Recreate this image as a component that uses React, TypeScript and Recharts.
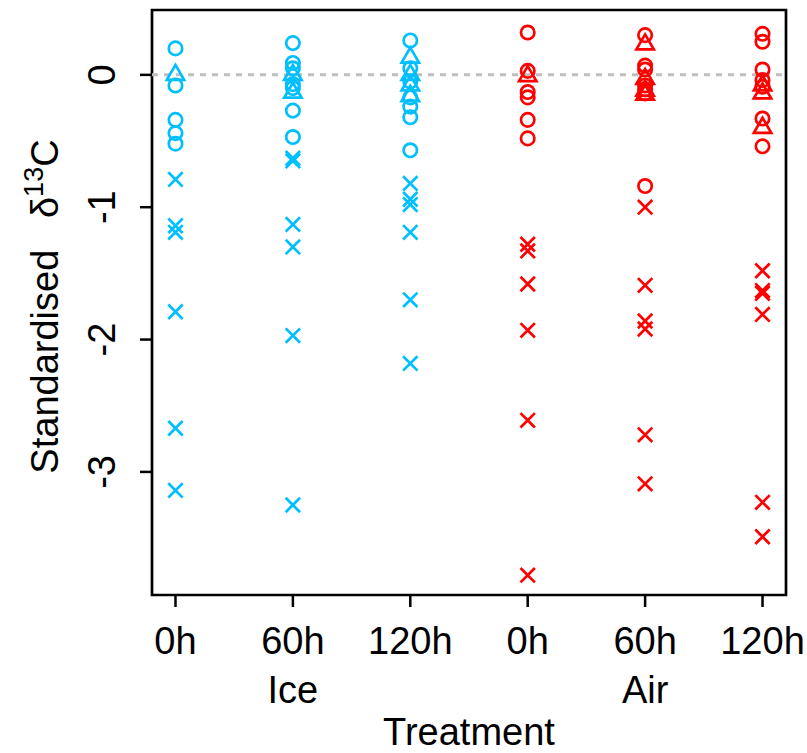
import React from 'react';
import {
  ScatterChart,
  Scatter,
  XAxis,
  YAxis,
  ReferenceLine,
  ReferenceArea,
} from 'recharts';

// columns: Ice 0h, Ice 60h, Ice 120h, Air 0h, Air 60h, Air 120h
const treatmentLabels = ['0h', '60h', '120h', '0h', '60h', '120h'];
const groupLabels = ['', 'Ice', '', '', 'Air', ''];
const xTicks = [1, 2, 3, 4, 5, 6];
const yTicks = [-3, -2, -1, 0];

const circleValues = [
  [0.2, -0.08, -0.34, -0.44, -0.52],
  [0.24, 0.09, 0.05, -0.07, -0.1, -0.27, -0.47],
  [0.26, 0.05, -0.05, -0.17, -0.24, -0.32, -0.57],
  [0.32, 0.03, -0.13, -0.17, -0.34, -0.48],
  [0.3, 0.07, 0.04, -0.08, -0.11, -0.14, -0.84],
  [0.31, 0.25, 0.04, -0.04, -0.09, -0.33, -0.54],
];

const triangleValues = [
  [0.0],
  [0.0, -0.135],
  [0.13, 0.0, -0.08, -0.16],
  [-0.01],
  [0.23, -0.03, -0.12, -0.15],
  [-0.08, -0.14, -0.4],
];

const crossValues = [
  [-0.79, -1.14, -1.19, -1.79, -2.67, -3.14],
  [-0.63, -0.65, -1.13, -1.3, -1.97, -3.25],
  [-0.82, -0.94, -0.98, -1.19, -1.7, -2.18],
  [-1.28, -1.33, -1.58, -1.93, -2.61, -3.78],
  [-1.0, -1.59, -1.86, -1.92, -2.72, -3.09],
  [-1.48, -1.63, -1.65, -1.81, -3.23, -3.49],
];

const iceCols = [0, 1, 2];
const airCols = [3, 4, 5];

const ICE = '#00BFFF';
const AIR = '#FF0000';
const FONT = 'Liberation Sans, Arial, sans-serif';
const LW = 2.7;

const toPoints = (values: number[][], cols: number[]) =>
  cols.flatMap((c) => values[c].map((y) => ({ x: c + 1, y })));

const circleShape = (color: string) => (props: any) => (
  <circle cx={props.cx} cy={props.cy} r={6.7} fill="none" stroke={color} strokeWidth={LW} />
);

const triangleShape = (color: string) => (props: any) => {
  const { cx, cy } = props;
  const pts = `${cx},${cy - 10} ${cx + 8.7},${cy + 5} ${cx - 8.7},${cy + 5}`;
  return <polygon points={pts} fill="none" stroke={color} strokeWidth={LW} strokeLinejoin="miter" />;
};

const crossShape = (color: string) => (props: any) => {
  const { cx, cy } = props;
  const d = 7.2;
  return (
    <path
      d={`M${cx - d},${cy - d}L${cx + d},${cy + d}M${cx - d},${cy + d}L${cx + d},${cy - d}`}
      stroke={color}
      strokeWidth={LW}
      fill="none"
    />
  );
};

const renderXTick = (props: any) => {
  const { x, y, payload } = props;
  const i = payload.value - 1;
  return (
    <g>
      <text x={x} y={y + 47} textAnchor="middle" fontSize={38} fontFamily={FONT} fill="#000">
        {treatmentLabels[i]}
      </text>
      {groupLabels[i] && (
        <text x={x} y={y + 96} textAnchor="middle" fontSize={38} fontFamily={FONT} fill="#000">
          {groupLabels[i]}
        </text>
      )}
    </g>
  );
};

const renderYTick = (props: any) => {
  const { x, y, payload } = props;
  const tx = x - 25;
  return (
    <text
      x={tx}
      y={y}
      transform={`rotate(-90, ${tx}, ${y})`}
      textAnchor="middle"
      fontSize={38}
      fontFamily={FONT}
      fill="#000"
    >
      {payload.value}
    </text>
  );
};

const renderXLabel = (props: any) => {
  const vb = props.viewBox;
  return (
    <text x={vb.x + vb.width / 2} y={vb.y + 150} textAnchor="middle" fontSize={38} fontFamily={FONT} fill="#000">
      Treatment
    </text>
  );
};

const renderYLabel = (props: any) => {
  const vb = props.viewBox;
  const tx = 58;
  const ty = vb.y + vb.height / 2 + 4;
  return (
    <text
      x={tx}
      y={ty}
      transform={`rotate(-90, ${tx}, ${ty})`}
      textAnchor="middle"
      fontSize={38}
      fontFamily={FONT}
      fill="#000"
      style={{ whiteSpace: 'pre' }}
    >
      {'Standardised   δ'}
      <tspan dy={-15} fontSize={27}>
        13
      </tspan>
      <tspan dy={15}>C</tspan>
    </text>
  );
};

export default function App() {
  return (
    <div style={{ position: 'absolute', left: 0, top: 0, width: 807, height: 753, background: '#fff' }}>
      <ScatterChart width={807} height={753} margin={{ top: 10, right: 21, bottom: 0, left: 0 }}>
        <XAxis
          type="number"
          dataKey="x"
          domain={[0.8, 6.2]}
          ticks={xTicks}
          allowDataOverflow
          axisLine={false}
          tickLine={{ stroke: '#000', strokeWidth: 2.5 }}
          tickSize={12}
          tickMargin={0}
          height={158}
          tick={renderXTick}
          label={renderXLabel}
        />
        <YAxis
          type="number"
          dataKey="y"
          domain={[-3.93, 0.49]}
          ticks={yTicks}
          allowDataOverflow
          axisLine={false}
          tickLine={{ stroke: '#000', strokeWidth: 2.5 }}
          tickSize={12}
          tickMargin={0}
          width={152}
          tick={renderYTick}
          label={renderYLabel}
        />
        <ReferenceLine y={0} stroke="#BEBEBE" strokeWidth={3} strokeDasharray="6 6" />
        <Scatter data={toPoints(circleValues, iceCols)} shape={circleShape(ICE)} isAnimationActive={false} />
        <Scatter data={toPoints(triangleValues, iceCols)} shape={triangleShape(ICE)} isAnimationActive={false} />
        <Scatter data={toPoints(crossValues, iceCols)} shape={crossShape(ICE)} isAnimationActive={false} />
        <Scatter data={toPoints(circleValues, airCols)} shape={circleShape(AIR)} isAnimationActive={false} />
        <Scatter data={toPoints(triangleValues, airCols)} shape={triangleShape(AIR)} isAnimationActive={false} />
        <Scatter data={toPoints(crossValues, airCols)} shape={crossShape(AIR)} isAnimationActive={false} />
        <ReferenceArea
          x1={0.8}
          x2={6.2}
          y1={-3.93}
          y2={0.49}
          fill="none"
          fillOpacity={0}
          stroke="#000"
          strokeWidth={2.7}
          ifOverflow="visible"
        />
      </ScatterChart>
    </div>
  );
}
